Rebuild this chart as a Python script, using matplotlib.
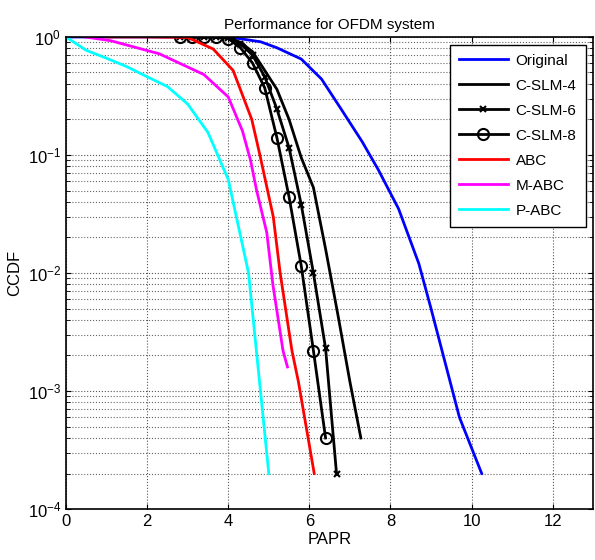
import numpy as np
import matplotlib
matplotlib.use("Agg")
import matplotlib.pyplot as plt
from matplotlib.ticker import LogLocator, NullFormatter

plt.rcParams['font.family'] = ['Liberation Sans', 'DejaVu Sans']
plt.rcParams['mathtext.default'] = 'regular'

# CCDF curves (PAPR in dB)
orig_x = [0, 4.0, 4.8, 5.2, 5.8, 6.3, 6.8, 7.3, 7.7, 8.2, 8.7, 9.0, 9.7, 10.25]
orig_y = [1, 1, 0.91, 0.81, 0.65, 0.44, 0.24, 0.13, 0.075, 0.035, 0.012, 0.005, 6e-4, 2e-4]

slm4_x = [2.8, 3.1, 3.4, 3.7, 4.0, 4.3, 4.6, 4.9, 5.2, 5.5, 5.8, 6.1, 6.4, 6.7, 7.0, 7.27]
slm4_y = [1, 1, 1, 1, 0.99, 0.9, 0.75, 0.52, 0.36, 0.2, 0.095, 0.053, 0.016, 0.0045, 0.0012, 4e-4]

slm6_x = [2.8, 3.1, 3.4, 3.7, 4.0, 4.3, 4.6, 4.9, 5.2, 5.5, 5.8, 6.1, 6.4, 6.67]
slm6_y = [1, 1, 1, 1, 0.98, 0.88, 0.7, 0.46, 0.245, 0.115, 0.038, 0.01, 0.0023, 2e-4]

slm8_x = [2.8, 3.1, 3.4, 3.7, 4.0, 4.3, 4.6, 4.9, 5.2, 5.5, 5.8, 6.1, 6.4]
slm8_y = [1, 1, 1, 1, 0.97, 0.81, 0.6, 0.37, 0.14, 0.044, 0.0115, 0.0022, 4e-4]

abc_x = [1.0, 2.0, 3.0, 3.63, 4.12, 4.58, 4.78, 5.11, 5.28, 5.57, 5.73, 6.12]
abc_y = [1, 1, 0.99, 0.79, 0.52, 0.2, 0.1, 0.03, 0.01, 0.0022, 0.0012, 2e-4]

mabc_x = [0.47, 1.1, 2.3, 3.4, 4.0, 4.35, 4.55, 4.7, 4.95, 5.1, 5.35, 5.46]
mabc_y = [1, 0.93, 0.72, 0.48, 0.31, 0.16, 0.09, 0.05, 0.022, 0.008, 0.0022, 0.0016]

pabc_x = [0, 0.5, 1.0, 1.5, 2.0, 2.5, 3.0, 3.5, 4.0, 4.5, 5.0]
pabc_y = [1, 0.77, 0.66, 0.56, 0.46, 0.38, 0.27, 0.155, 0.062, 0.01, 2e-4]

fig = plt.figure(figsize=(5.95, 5.6), dpi=100)
ax = fig.add_axes([0.111, 0.091, 0.886, 0.843])

lw = 2
ax.semilogy(orig_x, orig_y, color='blue', lw=lw, label='Original')
ax.semilogy(slm4_x, slm4_y, color='black', lw=lw, label='C-SLM-4')
ax.semilogy(slm6_x, slm6_y, color='black', lw=lw, marker='x', ms=4, mew=1.5, label='C-SLM-6')
ax.semilogy(slm8_x, slm8_y, color='black', lw=lw, marker='o', ms=8, mfc='none', mew=1.5, label='C-SLM-8')
ax.semilogy(abc_x, abc_y, color='red', lw=lw, label='ABC')
ax.semilogy(mabc_x, mabc_y, color='magenta', lw=lw, label='M-ABC')
ax.semilogy(pabc_x, pabc_y, color='cyan', lw=lw, label='P-ABC')

ax.set_xlim(0, 13)
ax.set_ylim(1e-4, 1)
ax.set_xticks([0, 2, 4, 6, 8, 10, 12])
ax.yaxis.set_major_locator(LogLocator(base=10, numticks=10))
ax.yaxis.set_minor_locator(LogLocator(base=10, subs=np.arange(2, 10), numticks=50))
ax.yaxis.set_minor_formatter(NullFormatter())

# matlab-ish grid
ax.grid(True, which='major', color='#555555', linestyle=':', lw=0.8)
ax.grid(True, which='minor', axis='y', color='#666666', linestyle=':', lw=0.8)
ax.tick_params(which='both', direction='in', top=True, right=True, labelsize=12)
ax.tick_params(which='minor', length=3)
for s in ax.spines.values():
    s.set_linewidth(1.2)

ax.set_title('Performance for OFDM system', fontsize=11)
ax.set_xlabel('PAPR', fontsize=12, labelpad=2)
ax.set_ylabel('CCDF', fontsize=12)

leg = ax.legend(loc='upper right', fontsize=11, fancybox=False, framealpha=1,
                edgecolor='black', handlelength=3.2, handletextpad=0.5,
                borderaxespad=0.5, borderpad=0.6, labelspacing=0.72)
leg.get_frame().set_linewidth(1.0)

fig.savefig('out.png', dpi=100)
